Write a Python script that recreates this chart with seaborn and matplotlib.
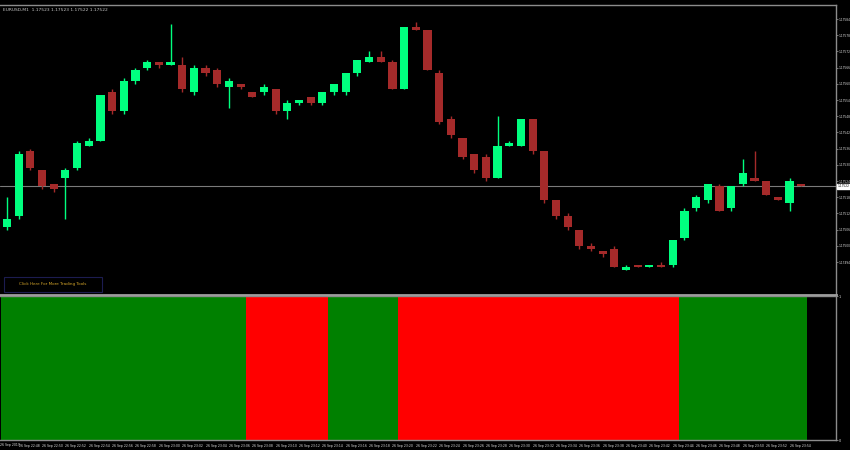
import matplotlib
matplotlib.use("Agg")
import matplotlib.pyplot as plt
from matplotlib.patches import Rectangle
import pandas as pd
import seaborn as sns

title_text = "EURUSD,M1  1.17523 1.17523 1.17522 1.17522"
button_text = "Click Here For More Trading Tools"

opens = [1.17507, 1.17511, 1.17535, 1.17528, 1.17523, 1.17525, 1.17529, 1.17537, 1.17539, 1.17557,
         1.17550, 1.17561, 1.17566, 1.17568, 1.17567, 1.17567, 1.17557, 1.17566, 1.17565, 1.17559,
         1.17560, 1.17557, 1.17557, 1.17558, 1.17550, 1.17553, 1.17555, 1.17553, 1.17557, 1.17557,
         1.17564, 1.17568, 1.17570, 1.17568, 1.17558, 1.17581, 1.17580, 1.17564, 1.17547, 1.17540,
         1.17534, 1.17533, 1.17525, 1.17537, 1.17537, 1.17547, 1.17535, 1.17517, 1.17511, 1.17506,
         1.17500, 1.17498, 1.17499, 1.17491, 1.17493, 1.17492, 1.17493, 1.17493, 1.17503, 1.17514,
         1.17517, 1.17522, 1.17514, 1.17523, 1.17525, 1.17524, 1.17518, 1.17516, 1.17523]
highs = [1.17518, 1.17535, 1.17536, 1.17528, 1.17523, 1.17529, 1.17539, 1.17540, 1.17556, 1.17558,
         1.17562, 1.17566, 1.17569, 1.17568, 1.17582, 1.17570, 1.17567, 1.17567, 1.17566, 1.17562,
         1.17560, 1.17557, 1.17560, 1.17558, 1.17554, 1.17554, 1.17555, 1.17557, 1.17560, 1.17564,
         1.17569, 1.17572, 1.17572, 1.17569, 1.17581, 1.17583, 1.17580, 1.17565, 1.17548, 1.17540,
         1.17534, 1.17534, 1.17548, 1.17539, 1.17547, 1.17547, 1.17535, 1.17517, 1.17512, 1.17506,
         1.17501, 1.17498, 1.17500, 1.17493, 1.17493, 1.17493, 1.17494, 1.17502, 1.17514, 1.17519,
         1.17523, 1.17523, 1.17522, 1.17532, 1.17535, 1.17524, 1.17518, 1.17525, 1.17523]
lows = [1.17506, 1.17510, 1.17528, 1.17521, 1.17520, 1.17510, 1.17528, 1.17537, 1.17539, 1.17549,
        1.17549, 1.17560, 1.17565, 1.17566, 1.17567, 1.17557, 1.17556, 1.17563, 1.17559, 1.17551,
        1.17558, 1.17555, 1.17556, 1.17549, 1.17547, 1.17552, 1.17552, 1.17552, 1.17556, 1.17556,
        1.17563, 1.17568, 1.17568, 1.17558, 1.17558, 1.17580, 1.17565, 1.17545, 1.17540, 1.17532,
        1.17527, 1.17524, 1.17525, 1.17537, 1.17537, 1.17534, 1.17516, 1.17510, 1.17506, 1.17499,
        1.17498, 1.17496, 1.17492, 1.17491, 1.17492, 1.17492, 1.17492, 1.17492, 1.17502, 1.17513,
        1.17516, 1.17513, 1.17513, 1.17522, 1.17524, 1.17519, 1.17517, 1.17513, 1.17522]
closes = [1.17510, 1.17534, 1.17529, 1.17522, 1.17521, 1.17528, 1.17538, 1.17539, 1.17556, 1.17550,
          1.17561, 1.17565, 1.17568, 1.17567, 1.17568, 1.17558, 1.17566, 1.17564, 1.17560, 1.17561,
          1.17559, 1.17555, 1.17559, 1.17550, 1.17553, 1.17554, 1.17553, 1.17557, 1.17560, 1.17564,
          1.17569, 1.17570, 1.17568, 1.17558, 1.17581, 1.17580, 1.17565, 1.17546, 1.17541, 1.17533,
          1.17528, 1.17525, 1.17537, 1.17538, 1.17547, 1.17535, 1.17517, 1.17511, 1.17507, 1.17500,
          1.17499, 1.17497, 1.17492, 1.17492, 1.17492, 1.17493, 1.17492, 1.17502, 1.17513, 1.17518,
          1.17523, 1.17513, 1.17522, 1.17527, 1.17524, 1.17519, 1.17517, 1.17524, 1.17522]

# indicator state per bar: 1 = up (green), -1 = down (red)
trend = [1, 1, 1, 1, 1, 1, 1, 1, 1, 1, 1, 1, 1, 1, 1, 1, 1, 1, 1, 1, 1,
         -1, -1, -1, -1, -1, -1, -1,
         1, 1, 1, 1, 1, 1,
         -1, -1, -1, -1, -1, -1, -1, -1, -1, -1, -1, -1, -1, -1, -1, -1, -1, -1, -1, -1, -1, -1, -1, -1,
         1, 1, 1, 1, 1, 1, 1, 1, 1, 1, 1]

price_ticks = [1.17584, 1.17578, 1.17572, 1.17566, 1.17560, 1.17554, 1.17548, 1.17542,
               1.17536, 1.17530, 1.17524, 1.17518, 1.17512, 1.17506, 1.17500, 1.17494]
first_time_label = "26 Sep 2019"
time_labels = ["26 Sep 22:48", "26 Sep 22:50", "26 Sep 22:52", "26 Sep 22:54", "26 Sep 22:56",
               "26 Sep 22:58", "26 Sep 23:00", "26 Sep 23:02", "26 Sep 23:04", "26 Sep 23:06",
               "26 Sep 23:08", "26 Sep 23:10", "26 Sep 23:12", "26 Sep 23:14", "26 Sep 23:16",
               "26 Sep 23:18", "26 Sep 23:20", "26 Sep 23:22", "26 Sep 23:24", "26 Sep 23:26",
               "26 Sep 23:28", "26 Sep 23:30", "26 Sep 23:32", "26 Sep 23:34", "26 Sep 23:36",
               "26 Sep 23:38", "26 Sep 23:40", "26 Sep 23:42", "26 Sep 23:44", "26 Sep 23:46",
               "26 Sep 23:48", "26 Sep 23:50", "26 Sep 23:52", "26 Sep 23:54"]

BULL = "#00ff7f"
BEAR = "#a52a2a"
IND_UP = "#008000"
IND_DN = "#ff0000"
FRAME = "#8c8c8c"

sns.set_style("dark", rc={"axes.facecolor": "black", "figure.facecolor": "black"})
plt.rcParams["font.family"] = ["DejaVu Sans"]

df = pd.DataFrame({"open": opens, "high": highs, "low": lows, "close": closes, "trend": trend})
df["idx"] = range(len(df))
df["bull"] = df["close"] >= df["open"]
df["color"] = df["bull"].map({True: BULL, False: BEAR})

fig = plt.figure(figsize=(8.5, 4.5), dpi=100)
W, H = 850.0, 450.0
ax = fig.add_axes([0, 1 - 295 / H, 836 / W, 290 / H])
ax2 = fig.add_axes([0, 1 - 440 / H, 836 / W, 144 / H])

xlim = (-0.6, -0.6 + 836 / 11.68)

# candles
ax.vlines(df["idx"], df["low"], df["high"], colors=df["color"], lw=1.0, zorder=2)
body_lo = df[["open", "close"]].min(axis=1)
body_h = (df["close"] - df["open"]).abs()
ax.bar(df["idx"], body_h, bottom=body_lo, width=0.7, color=df["color"], linewidth=0, zorder=3)
flat = df[body_h == 0]
ax.hlines(flat["close"], flat["idx"] - 0.35, flat["idx"] + 0.35, colors=flat["color"], lw=1, zorder=3)

last = closes[-1]
ax.axhline(last, color="#7a7a7a", lw=0.8, zorder=1)

ax.set_xlim(*xlim)
ax.set_ylim(1.17494 - 0.0001222, 1.17494 + 0.0009519)
ax.yaxis.tick_right()
ax.set_yticks(price_ticks)
ax.set_yticklabels([f"{p:.5f}" for p in price_ticks])
ax.tick_params(axis="y", colors=FRAME, labelcolor="#e0e0e0", labelsize=2.1, length=1.6, width=0.6, pad=0.3,
               right=True, left=False)
ax.set_xticks([])
ax.spines["left"].set_visible(False)
for s in ["top", "right"]:
    ax.spines[s].set_color(FRAME)
    ax.spines[s].set_linewidth(1)
ax.spines["bottom"].set_color("#a0a0a0")
ax.spines["bottom"].set_linewidth(2)
ax.grid(False)

ax.text(1.0 + 1.5 / 836, last, f"{last:.5f}", transform=ax.get_yaxis_transform(), fontsize=2.1,
        color="black", va="center", ha="left", clip_on=False,
        bbox=dict(boxstyle="square,pad=0.12", fc="white", ec="white"))

fig.text(3 / W, 1 - 10 / H, title_text, color="#c8c8c8", fontsize=3.2, va="center", ha="left")

fig.patches.append(Rectangle((4 / W, 1 - 292 / H), 98 / W, 15 / H, transform=fig.transFigure,
                             fill=False, ec="#1c1c50", lw=0.8))
fig.text(53 / W, 1 - 284.5 / H, button_text, color="#d4a52a", fontsize=3.0, ha="center", va="center")

# indicator pane
ind = df.copy()
ind["state"] = ind["trend"].map({1: "up", -1: "down"})
ind["val"] = 1.0
sns.barplot(data=ind, x="idx", y="val", hue="state", palette={"up": IND_UP, "down": IND_DN},
            dodge=False, width=1.0, native_scale=True, legend=False, saturation=1, linewidth=0, ax=ax2)
ax2.set_xlim(*xlim)
ax2.set_ylim(0, 1)
ax2.set_xlabel("")
ax2.set_ylabel("")
ax2.yaxis.tick_right()
ax2.set_yticks([0, 1])
ax2.set_yticklabels(["0", "1"])
ax2.tick_params(axis="y", colors=FRAME, labelcolor="#e0e0e0", labelsize=2.4, length=1.6, width=0.6, pad=0.3)
tick_pos = list(range(1, 2 * len(time_labels), 2))
ax2.set_xticks(tick_pos)
ax2.set_xticklabels(time_labels, ha="left")
ax2.tick_params(axis="x", colors=FRAME, labelcolor="#e0e0e0", labelsize=2.25, length=2, width=0.6, pad=0.8)
ax2.text(0.5 / 836, -0.022, first_time_label, transform=ax2.transAxes, fontsize=2.25,
         color="#e0e0e0", ha="left", va="top", clip_on=False)
ax2.spines["left"].set_visible(False)
for s in ["top", "right", "bottom"]:
    ax2.spines[s].set_color(FRAME)
    ax2.spines[s].set_linewidth(1)
ax2.grid(False)

fig.savefig("out.png", dpi=100, facecolor="black")
